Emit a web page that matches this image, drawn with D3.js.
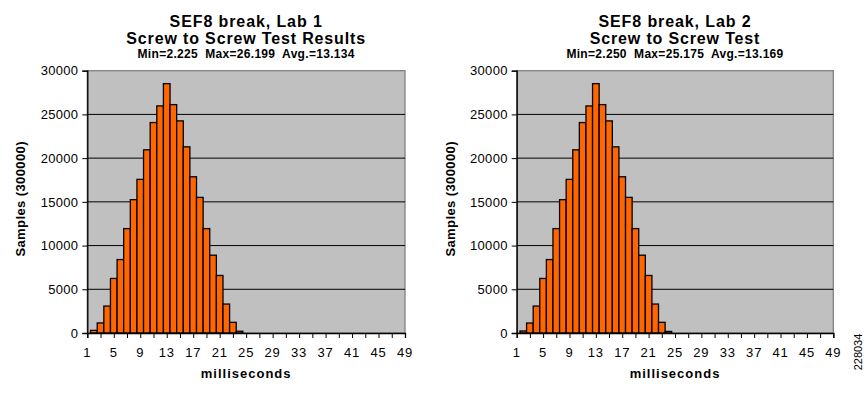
<!DOCTYPE html>
<html>
<head>
<meta charset="utf-8">
<script src="https://cdn.jsdelivr.net/npm/d3@7"></script>
<style>
  body { margin: 0; background: #fff; }
  svg { display: block; font-family: "Liberation Sans", Arial, sans-serif; }
  text { white-space: pre; }
</style>
</head>
<body>
<svg id="chart"></svg>
<script>
// bins (ms) that hold samples, same for both labs
const bins = [2, 3, 4, 5, 6, 7, 8, 9, 10, 11, 12, 13, 14, 15, 16, 17, 18, 19, 20, 21, 22, 23, 24];

const lab1Counts = [300, 1150, 3080, 6240, 8400, 11940, 15250, 17570, 20950, 24070, 25970, 28520,
  26120, 24260, 21290, 17870, 15510, 11940, 8900, 6580, 3310, 1220, 200];
const lab2Counts = [230, 1140, 3080, 6240, 8400, 11940, 15250, 17570, 20950, 24070, 25970, 28520,
  26120, 24260, 21290, 17870, 15510, 11940, 8900, 6580, 3310, 1220, 180];

const xTickLabels = [1, 5, 9, 13, 17, 21, 25, 29, 33, 37, 41, 45, 49];
const xMinorTicks = [1, 3, 5, 7, 9, 11, 13, 15, 17, 19, 21, 23, 25, 27, 29, 31, 33, 35, 37, 39, 41, 43, 45, 47, 49];
const yTicks = [0, 5000, 10000, 15000, 20000, 25000, 30000];

const lab1Title = ["SEF8 break, Lab 1", "Screw to Screw Test Results", "Min=2.225  Max=26.199  Avg.=13.134"];
const lab2Title = ["SEF8 break, Lab 2", "Screw to Screw Test", "Min=2.250  Max=25.175  Avg.=13.169"];

const svg = d3.select("#chart").attr("width", 867).attr("height", 396);

class Histogram {
  constructor(svg, counts, titles, left, right) {
    this.svg = svg;
    this.counts = counts;
    this.titles = titles;
    this.left = left;
    this.right = right;
    this.top = 70.7;
    this.bottom = 333;
  }

  draw() {
    const g = this.svg.append("g");
    const x = d3.scaleLinear().domain([1, 49]).range([this.left, this.right]);
    const y = d3.scaleLinear().domain([0, 30000]).range([this.bottom, this.top]);
    const bw = x(2) - x(1);
    const cx = (this.left + this.right) / 2;

    // plot area
    g.append("rect")
      .attr("x", this.left).attr("y", this.top)
      .attr("width", this.right - this.left).attr("height", this.bottom - this.top)
      .attr("fill", "#c0c0c0").attr("stroke", "#808080").attr("stroke-width", 1.3);

    // gridlines
    g.selectAll(".grid")
      .data(yTicks.filter(d => d > 0 && d < 30000))
      .join("line")
      .attr("x1", this.left).attr("x2", this.right)
      .attr("y1", d => y(d)).attr("y2", d => y(d))
      .attr("stroke", "#000").attr("stroke-width", 1);

    // bars
    g.selectAll(".bar")
      .data(bins.map((b, i) => ({ bin: b, v: this.counts[i] })))
      .join("rect")
      .attr("x", d => x(d.bin) - bw / 2)
      .attr("y", d => y(d.v))
      .attr("width", bw)
      .attr("height", d => y(0) - y(d.v))
      .attr("fill", "#ff6600")
      .attr("stroke", "#000")
      .attr("stroke-width", 1.3);

    // y axis
    const yAxis = g.append("g")
      .attr("transform", `translate(${this.left},0)`)
      .call(d3.axisLeft(y).tickValues(yTicks).tickSize(5).tickPadding(4).tickFormat(d3.format("d")));
    yAxis.select(".domain").attr("stroke", "#000").attr("stroke-width", 1.3);
    yAxis.selectAll("text").attr("font-size", 13).attr("font-family", "Liberation Sans, Arial, sans-serif")
      .attr("fill", "#000").attr("letter-spacing", 0.3);

    // x axis
    const xAxis = g.append("g")
      .attr("transform", `translate(0,${this.bottom})`)
      .call(d3.axisBottom(x).tickValues(xMinorTicks).tickSize(5).tickFormat(""));
    xAxis.select(".domain").attr("stroke", "#000").attr("stroke-width", 1.3);

    g.selectAll(".xlab")
      .data(xTickLabels)
      .join("text")
      .attr("x", d => x(d))
      .attr("y", 357)
      .attr("text-anchor", "middle")
      .attr("font-size", 13)
      .attr("letter-spacing", 0.8)
      .text(d => d);

    g.append("text")
      .attr("x", cx).attr("y", 378)
      .attr("text-anchor", "middle")
      .attr("font-size", 13).attr("font-weight", "bold")
      .attr("letter-spacing", 1)
      .text("milliseconds");

    g.append("text")
      .attr("transform", `translate(${this.left - 62},${(this.top + this.bottom) / 2 - 3}) rotate(-90)`)
      .attr("text-anchor", "middle")
      .attr("font-size", 13).attr("font-weight", "bold")
      .attr("letter-spacing", 0.4)
      .text("Samples (300000)");

    // titles
    g.append("text")
      .attr("x", cx).attr("y", 27)
      .attr("text-anchor", "middle")
      .attr("font-size", 16).attr("font-weight", "bold").attr("letter-spacing", 0.9)
      .text(this.titles[0]);
    g.append("text")
      .attr("x", cx).attr("y", 43.5)
      .attr("text-anchor", "middle")
      .attr("font-size", 16).attr("font-weight", "bold").attr("letter-spacing", 0.85)
      .text(this.titles[1]);
    g.append("text")
      .attr("x", cx).attr("y", 57.5)
      .attr("text-anchor", "middle")
      .attr("font-size", 12).attr("font-weight", "bold").attr("letter-spacing", 0.3)
      .text(this.titles[2]);
  }
}

new Histogram(svg, lab1Counts, lab1Title, 87.3, 405).draw();
new Histogram(svg, lab2Counts, lab2Title, 516.7, 833.3).draw();

// figure number
svg.append("text")
  .attr("transform", "translate(862,352) rotate(-90)")
  .attr("text-anchor", "middle")
  .attr("font-size", 11)
  .text("228034");
</script>
</body>
</html>
